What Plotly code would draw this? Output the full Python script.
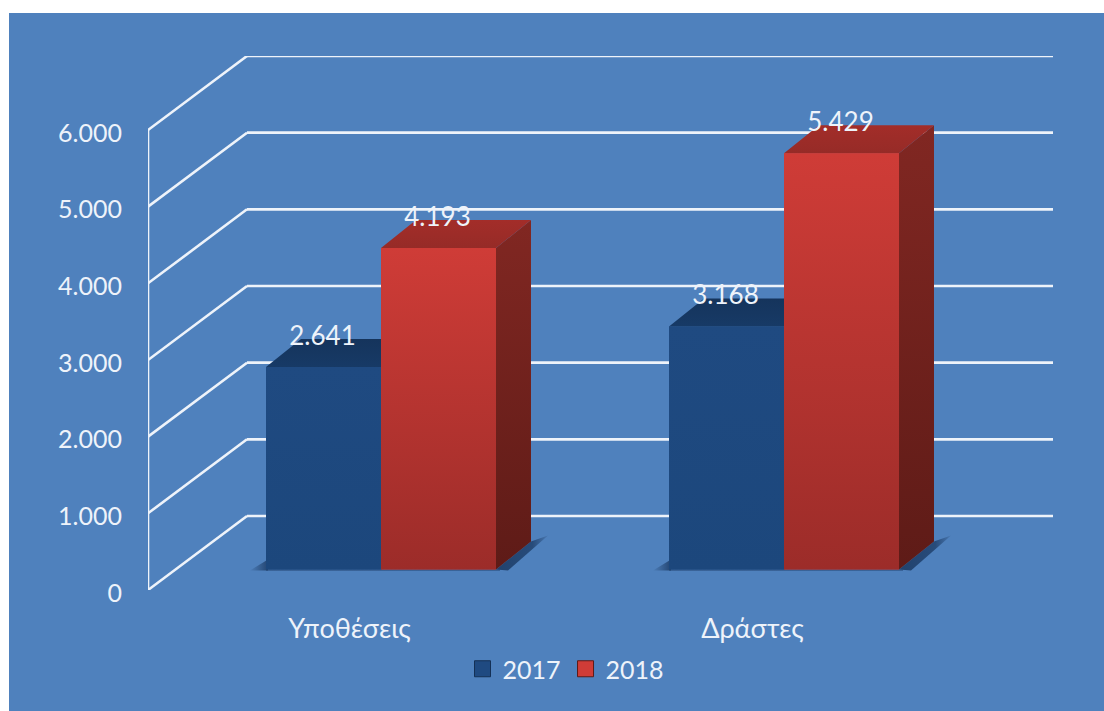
import plotly.graph_objects as go

# --- data -------------------------------------------------------------
categories = ["Υποθέσεις", "Δράστες"]
series_names = ["2017", "2018"]
values_2017 = [2641, 3168]
values_2018 = [4193, 5429]
y_ticks = [0, 1000, 2000, 3000, 4000, 5000, 6000]
y_labels = ["0", "1.000", "2.000", "3.000", "4.000", "5.000", "6.000"]

# --- style / geometry --------------------------------------------------
W, H = 1104, 711
L, R, T, B = 148, 1053, 56, 590
PX_X = 403.0            # px per category
PX_Y = 460.0 / 6000     # px per value unit
FONT = "Lato, Carlito, 'Open Sans', sans-serif"
PANEL = "#4f81bd"
WHITE = "#eef3fa"

def dx(px): return px / PX_X
def dy(px): return px / PX_Y

x_range = [-0.5, -0.5 + (R - L) / PX_X]
y_range = [0, dy(B - T)]
wall_dx, wall_dy = dx(99), dy(74)
floor = dy(20.5)
bar_w = dx(115)
off = {0: dx(266 - 148) - 0.5, 1: dx(381 - 148) - 0.5}
depth_x, depth_y = dx(35), dy(28)

fill_styles = {
    0: dict(front=["#1f4a81", "#1c477c"], side=["#173a66", "#143055"], top=["#15345c", "#173a66"]),
    1: dict(front=["#cf3c37", "#9c2c29"], side=["#812722", "#5e1b17"], top=["#a32d29", "#962b27"]),
}

fig = go.Figure()

# real bars (data marks)
for s, (name, vals) in enumerate(zip(series_names, [values_2017, values_2018])):
    fig.add_trace(go.Bar(
        x=list(range(len(categories))), y=vals, base=[floor] * len(vals),
        width=bar_w, offset=off[s], marker=dict(color=fill_styles[s]["front"][0], line_width=0),
        name=name, showlegend=False, hoverinfo="skip",
    ))

def poly(xs, ys, colorscale, horizontal=False):
    fig.add_trace(go.Scatter(
        x=xs + xs[:1], y=ys + ys[:1], mode="lines", fill="toself",
        line=dict(width=0, color="rgba(0,0,0,0)"),
        fillgradient=dict(type="horizontal" if horizontal else "vertical", colorscale=colorscale),
        showlegend=False, hoverinfo="skip",
    ))

def vert(colors):
    return [[0, colors[1]], [1, colors[0]]]

# floor shadows
SH = "rgba(30,62,105,{})"
for g in range(len(categories)):
    xl = g + off[0]
    xr = g + off[1] + bar_w
    poly([xr, xr + depth_x, xr + depth_x + dx(17), xr + dx(12)],
         [floor, floor + depth_y, floor + depth_y + dy(6), floor - dy(1)],
         [[0, SH.format(0.95)], [0.7, SH.format(0.8)], [1, SH.format(0.15)]], horizontal=True)
    poly([xl - dx(16), xl + dx(2), xl + dx(2)],
         [floor - dy(1), floor + dy(10), floor - dy(1)],
         [[0, SH.format(0.05)], [1, SH.format(0.9)]], horizontal=True)
    poly([xl, xr + dx(4), xr + dx(4), xl],
         [floor - dy(1.5), floor - dy(1.5), floor, floor],
         [[0, SH.format(0.45)], [1, SH.format(0.45)]], horizontal=True)

# 3-D faces, derived from the values
for s, vals in enumerate([values_2017, values_2018]):
    st = fill_styles[s]
    for g, v in enumerate(vals):
        x0 = g + off[s]
        x1 = x0 + bar_w
        top = floor + v
        poly([x1, x1 + depth_x, x1 + depth_x, x1],
             [floor, floor + depth_y, top + depth_y, top], vert(st["side"]))
        poly([x0, x0 + depth_x, x1 + depth_x, x1],
             [top, top + depth_y, top + depth_y, top], vert(st["top"]))
        poly([x0, x1, x1, x0], [floor, floor, top, top], vert(st["front"]))

# data labels
lab_x, lab_y, lab_t = [], [], []
for s, vals in enumerate([values_2017, values_2018]):
    for g, v in enumerate(vals):
        lab_x.append(g + off[s] + bar_w / 2 + dx(-1))
        lab_y.append(floor + v + dy(29))
        lab_t.append(f"{v:,}".replace(",", "."))
fig.add_trace(go.Scatter(
    x=lab_x, y=lab_y, text=lab_t, mode="text", textposition="middle center",
    textfont=dict(family=FONT, size=26, color=WHITE), showlegend=False, hoverinfo="skip",
))

# legend entries
for s, name in enumerate(series_names):
    c = fill_styles[s]
    fig.add_trace(go.Scatter(
        x=[None], y=[None], mode="markers", name=name,
        marker=dict(symbol="square", size=16, color=c["front"][0],
                    line=dict(width=1, color=c["side"][1])),
    ))

# panel + wall grid (below the marks)
LW = 2.6
shapes = [dict(type="rect", xref="paper", yref="paper", layer="below",
               x0=(9 - L) / (R - L), x1=(W - L) / (R - L),
               y0=(B - H) / (B - T), y1=(B - 13) / (B - T),
               fillcolor=PANEL, line_width=0)]
for v in y_ticks:
    shapes.append(dict(type="line", xref="x", yref="y", layer="below",
                       x0=x_range[0], y0=v, x1=x_range[0] + wall_dx, y1=v + wall_dy,
                       line=dict(color=WHITE, width=LW)))
    shapes.append(dict(type="line", xref="x", yref="y", layer="below",
                       x0=x_range[0] + wall_dx, y0=v + wall_dy, x1=x_range[1], y1=v + wall_dy,
                       line=dict(color=WHITE, width=LW)))
shapes.append(dict(type="line", xref="x", yref="y", layer="below",
                   x0=x_range[0], y0=y_ticks[0], x1=x_range[0], y1=y_ticks[-1],
                   line=dict(color=WHITE, width=LW)))

fig.update_layout(
    width=W, height=H, autosize=False,
    margin=dict(l=L, r=W - R, t=T, b=H - B, pad=0),
    paper_bgcolor="white", plot_bgcolor="rgba(0,0,0,0)",
    barmode="overlay", shapes=shapes, hovermode=False,
    font=dict(family=FONT, color=WHITE, size=25),
    xaxis=dict(range=x_range, tickmode="array", tickvals=list(range(len(categories))),
               ticktext=categories, showgrid=False, zeroline=False, showline=False,
               ticks="outside", ticklen=15, tickcolor="rgba(0,0,0,0)", tickfont=dict(size=27, color=WHITE)),
    yaxis=dict(range=y_range, tickmode="array", tickvals=y_ticks, ticktext=y_labels,
               showgrid=False, zeroline=False, showline=False, ticklabelshift=3,
               ticks="outside", ticklen=20, tickcolor="rgba(0,0,0,0)", tickfont=dict(size=25, color=WHITE)),
    legend=dict(orientation="h", xanchor="center", yanchor="middle",
                x=(566 - L) / (R - L), y=(B - 669) / (B - T),
                bgcolor="rgba(0,0,0,0)", font=dict(size=25, color=WHITE),
                itemwidth=30, tracegroupgap=0),
)

fig.write_html("out.html", config=dict(displayModeBar=False),
               post_script="document.body.style.margin='0';document.body.style.overflow='hidden';")
